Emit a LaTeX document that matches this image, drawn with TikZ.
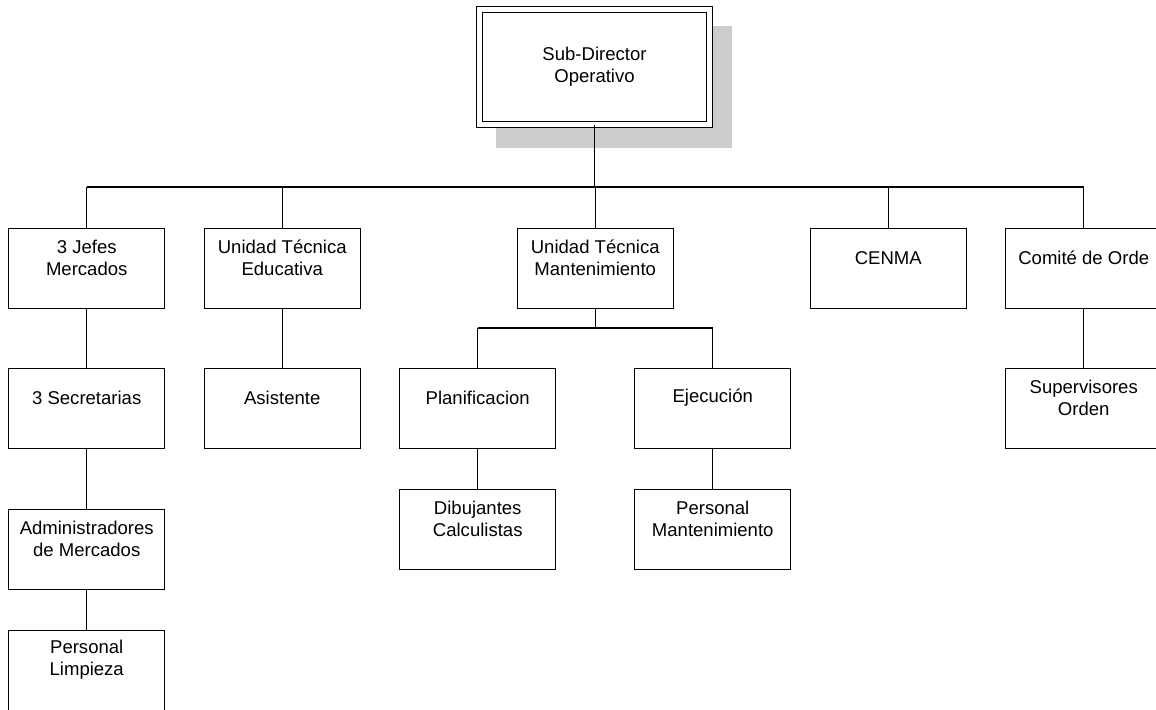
\documentclass[tikz,border=0pt]{standalone}
\usepackage{fontspec}
\setmainfont{Liberation Sans}
\usetikzlibrary{calc}
\tikzset{
  box/.style={draw, line width=1.1pt, minimum width=156*0.75pt, minimum height=80*0.75pt, inner sep=0pt, anchor=north west},
  txt/.style={align=center, inner sep=0pt, font=\fontsize{13.9pt}{16.5pt}\selectfont},
  conn/.style={line width=1pt},
  topbox/.style={draw, fill=white, double, line width=1.1pt, double distance=3.4pt, minimum width=230*0.75pt, minimum height=115*0.75pt, inner sep=0pt, align=center, font=\fontsize{13.9pt}{16.5pt}\selectfont}
}
\definecolor{shadowgray}{RGB}{204,204,204}
\newcommand\obox[4]{%
  \node[box] (#1) at (#2,#3) {};
  \node[txt] (#1t) at ($(#1.center)+(0,-11)$) {#4};
}
\begin{document}
\begin{tikzpicture}[x=0.75pt,y=-0.75pt]
\useasboundingbox (0,0) rectangle (1156,710);
% top box with shadow
\coordinate (tc) at (594.5,67);
\fill[shadowgray] ($(tc)+(-98.5,-41)$) rectangle ($(tc)+(137.5,81)$);
\node[topbox] (top) at (tc) {Sub-Director\\Operativo};
% row 1
\obox{a1}{8}{228}{3 Jefes\\Mercados}
\obox{a2}{203.5}{228}{Unidad Técnica\\Educativa}
\obox{a3}{516.5}{228}{Unidad Técnica\\Mantenimiento}
\obox{a4}{809.5}{228}{CENMA}
\obox{a5}{1005}{228}{Comité de Orde}
% left column
\obox{b1}{8}{368}{3 Secretarias}
\obox{b2}{8}{509}{Administradores\\de Mercados}
\obox{b3}{8}{630}{Personal\\Limpieza}
% second column
\obox{c1}{203.5}{368}{Asistente}
% maintenance
\obox{d1}{399}{368}{Planificacion}
\obox{d2}{634}{368}{Ejecución}
\obox{e1}{399}{489}{Dibujantes\\Calculistas}
\obox{e2}{634}{489}{Personal\\Mantenimiento}
% right
\obox{f1}{1005}{368}{Supervisores\\Orden}
% connectors
\coordinate (bus) at (595,187);
\draw[conn] (top.south) -- (top.south |- bus);
\draw[conn] (a1.north |- bus) -- (a5.north |- bus);
\foreach \n in {a1,a2,a3,a4,a5} \draw[conn] (\n.north |- bus) -- (\n.north);
\draw[conn] (a1.south) -- (b1.north);
\draw[conn] (b1.south) -- (b2.north);
\draw[conn] (b2.south) -- (b3.north);
\draw[conn] (a2.south) -- (c1.north);
\coordinate (bus2) at (595,328);
\draw[conn] (a3.south) -- (a3.south |- bus2);
\draw[conn] (d1.north |- bus2) -- (d2.north |- bus2);
\draw[conn] (d1.north |- bus2) -- (d1.north);
\draw[conn] (d2.north |- bus2) -- (d2.north);
\draw[conn] (d1.south) -- (e1.north);
\draw[conn] (d2.south) -- (e2.north);
\draw[conn] (a5.south) -- (f1.north);
\end{tikzpicture}
\end{document}
